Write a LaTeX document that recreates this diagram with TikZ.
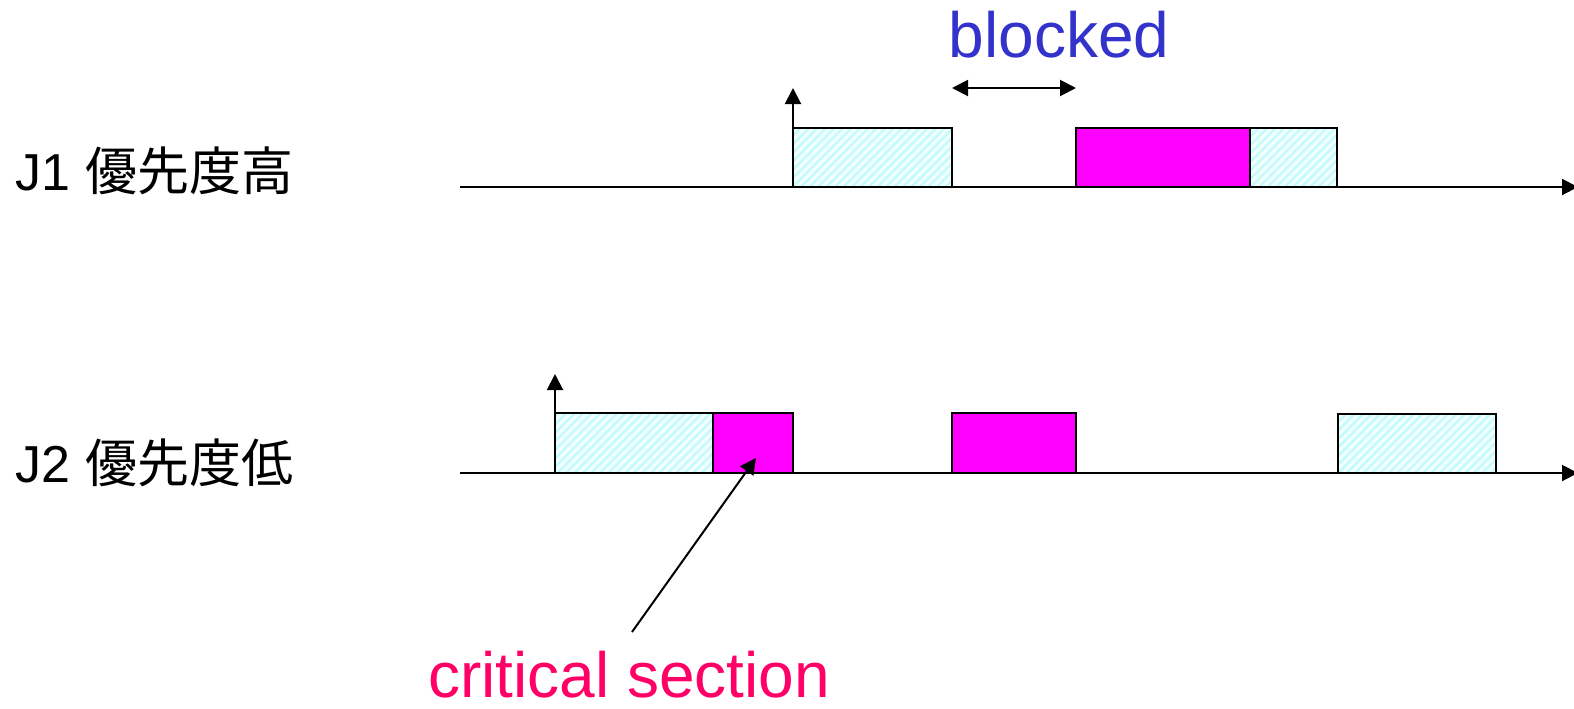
\documentclass[tikz,border=0pt]{standalone}
\usepackage{fontspec}
\setmainfont{Liberation Sans}
\newfontfamily\cjk{Noto Sans CJK JP}
\usetikzlibrary{arrows.meta,patterns.meta}

\definecolor{csmagenta}{HTML}{FF00FF}
\definecolor{csred}{HTML}{FF0066}
\definecolor{blkblue}{HTML}{3333CC}
\definecolor{hatchbg}{HTML}{F0FFFF}
\definecolor{hatchfg}{HTML}{C4FAFA}

\tikzset{
  seg/.style={draw, line width=1pt, anchor=south west, inner sep=0pt,
    outer sep=0pt, minimum height=29.5pt},
  runseg/.style={seg, preaction={fill=hatchbg},
    pattern={Lines[angle=45,distance=3pt,line width=1.2pt]}, pattern color=hatchfg},
  critseg/.style={seg, fill=csmagenta},
  joblabel/.style={anchor=base west, inner sep=0pt, font=\fontsize{26}{30}\selectfont},
  bigtext/.style={anchor=base, inner sep=0pt, font=\fontsize{32}{36}\selectfont}
}

\begin{document}
\begin{tikzpicture}[x=0.5pt,y=-0.5pt,line width=1pt,
  >={Triangle[length=8pt,width=8pt]}]
  \useasboundingbox (0,0) rectangle (1574,708);

%%%%%%%%%%%%%%%%%%%%%%%%%%%%%%%%%%%%%%%%%%
  % J1 (high priority)
  \node[joblabel] (j1label) at (15,190) {J1 {\cjk 優先度高}};
  \draw[->] (460,187) -- (1578,187);

  \node[runseg, minimum width=79.5pt] (j1a) at (793,187) {};
  \node[critseg, minimum width=87pt] (j1b) at (1076,187) {};
  \node[runseg, minimum width=43.5pt] (j1c) at (1250,187) {};

  % release
  \coordinate (j1up) at (793,88);
  \draw[->] (j1a.north west) -- (j1up);

  % blocked interval
  \draw[<->] (j1a.east |- j1up) -- (j1b.west |- j1up);
  \node[bigtext, text=blkblue] (blocked) at (1059,57) {blocked};

%%%%%%%%%%%%%%%%%%%%%%%%%%%%%%%%%%%%%%%%%%
  % J2 (low priority)
  \node[joblabel] (j2label) at (15,482) {J2 {\cjk 優先度低}};
  \draw[->] (460,473) -- (1578,473);

  \node[runseg, minimum width=79pt, minimum height=30pt] (j2a) at (555,473) {};
  \node[critseg, minimum width=40pt, minimum height=30pt] (j2b) at (713,473) {};
  \node[critseg, minimum width=62pt, minimum height=30pt] (j2c) at (952,473) {};
  \node[runseg, minimum width=79pt, minimum height=29.5pt] (j2d) at (1338,473) {};

  % release
  \coordinate (j2up) at (555,374);
  \draw[->] (j2a.north west) -- (j2up);

  % critical section note
  \node[bigtext, text=csred] (critlabel) at (629,697) {critical section};
  \coordinate (crittail) at (632,632);
  \draw[->] (crittail) -- ([shift={(3,-15)}]j2b.south);

\end{tikzpicture}
\end{document}
